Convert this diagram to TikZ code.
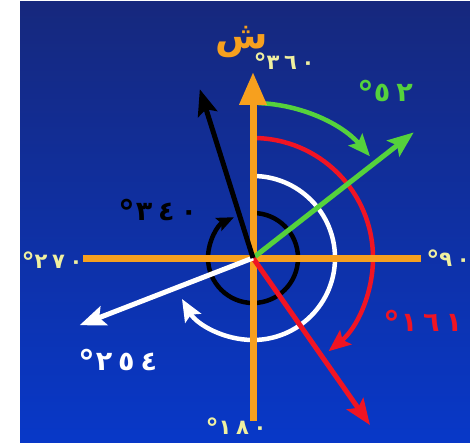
\documentclass[tikz,border=0pt]{standalone}
\usepackage{fontspec}
\usetikzlibrary{arrows.meta}
\newfontfamily\arabfont[Script=Arabic]{DejaVu Sans}
\newfontfamily\digfont[LetterSpace=22]{DejaVu Sans}
\newcommand\dgr{\raisebox{-0.3ex}{\scalebox{1.25}{°}}}
\definecolor{axorange}{RGB}{247,160,30}
\definecolor{agreen}{RGB}{85,210,60}
\definecolor{ared}{RGB}{240,20,35}
\definecolor{pale}{RGB}{240,240,160}
\definecolor{bgtop}{RGB}{22,40,125}
\definecolor{bgbot}{RGB}{8,56,200}
\tikzset{
  axisline/.style={draw=axorange, line width=7pt},
  vecline/.style={line width=5pt, -{Stealth[length=26pt,width=20pt,inset=5pt]}},
  arcline/.style={line width=4.5pt, -{Stealth[length=22pt,width=18pt,inset=4pt]}},
  lab/.style={font=\digfont\bfseries\fontsize{27}{27}\selectfont, inner sep=0pt},
  axlab/.style={font=\digfont\bfseries\fontsize{21}{21}\selectfont, inner sep=0pt, text=pale}
}
\begin{document}
\begin{tikzpicture}[x=1pt,y=-1pt]
\useasboundingbox (0,0) rectangle (470,443);
\fill[white] (0,0) rectangle (470,443);
\shade[top color=bgtop, bottom color=bgbot] (20,2) rectangle (470,443);

\coordinate (C) at (253,258);
% arcs
\draw[arcline, draw=agreen] ([shift={(-88:155)}]C) arc[start angle=-88, end angle=-41, radius=155];
\draw[arcline, draw=ared] ([shift={(-90:120)}]C) arc[start angle=-90, end angle=51, radius=120];
\draw[arcline, draw=white] ([shift={(-90:82)}]C) arc[start angle=-90, end angle=150, radius=82];
\draw[line width=4.5pt, draw=black, -{Stealth[length=17pt,width=14pt,inset=3pt]}] ([shift={(-90:45)}]C) arc[start angle=-90, end angle=245, radius=45];

% axes
\coordinate (N) at (253,72);
\coordinate (S) at (253,421);
\coordinate (W) at (83,258);
\coordinate (E) at (421,258);
\draw[axisline] (W) -- (E);
\draw[axisline, -{Triangle[length=33pt,width=26pt]}] (S) -- (N);

% vectors
\coordinate (G) at ([shift={(-38:204)}]C);
\coordinate (R) at ([shift={(55:204)}]C);
\coordinate (Wt) at ([shift={(158.8:186)}]C);
\coordinate (B) at ([shift={(-107.5:177)}]C);
\draw[vecline, draw=agreen] (C) -- (G);
\draw[vecline, draw=ared] (C) -- (R);
\draw[vecline, draw=white] (C) -- (Wt);
\draw[vecline, draw=black] (C) -- (B);

% labels
\node[font=\arabfont\bfseries\fontsize{38}{38}\selectfont, text=axorange, inner sep=0pt] (shin) at (242,42) {ش};
\node[axlab] (l360) at (284,63) {\dgr٣٦٠};
\node[axlab] (l270) at (52,262) {\dgr٢٧٠};
\node[axlab] (l90) at (448,260) {\dgr٩٠};
\node[axlab, anchor=south] (l180) at (236,438) {\dgr١٨٠};
\node[lab, text=agreen] (l52) at (385,93) {\dgr٥٢};
\node[lab, text=black] (l340) at (158,212) {\dgr٣٤٠};
\node[lab, text=white] (l254) at (118,362) {\dgr٢٥٤};
\node[lab, text=ared] (l161) at (423,323) {\dgr١٦١};
\end{tikzpicture}
\end{document}
